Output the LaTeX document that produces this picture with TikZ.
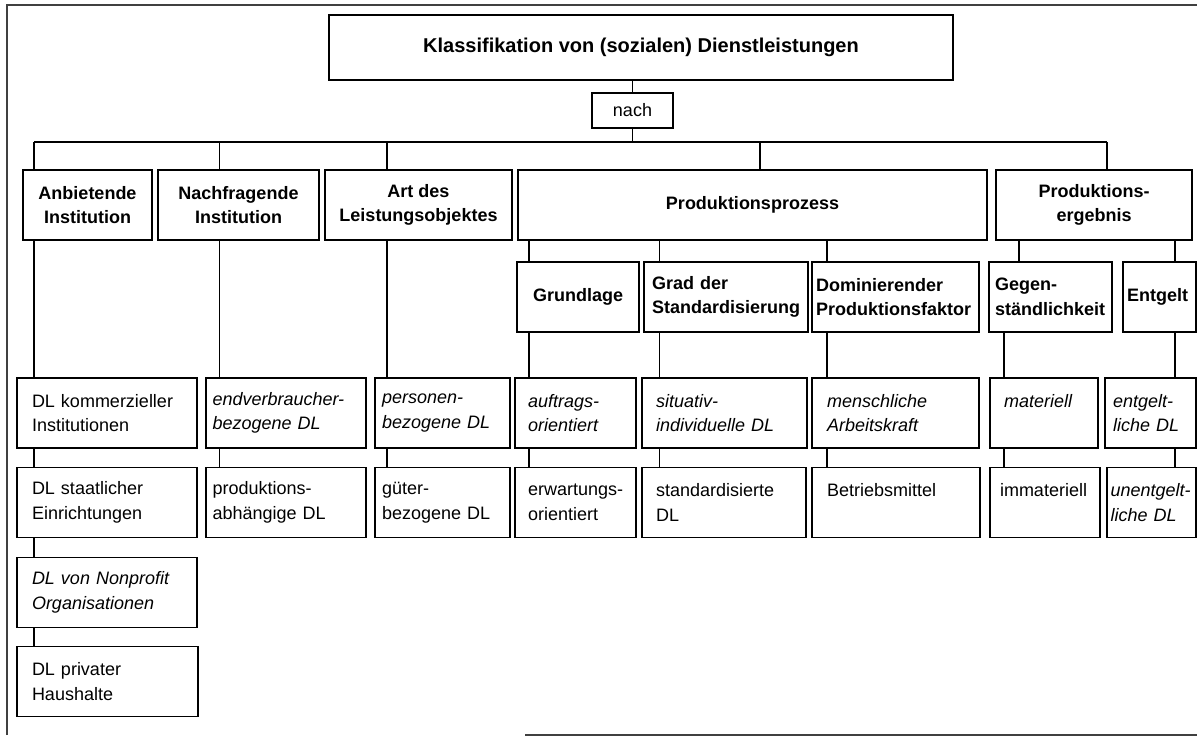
\documentclass[tikz,border=0pt]{standalone}
\usepackage{fontspec}
\setmainfont{Liberation Sans}
\usepackage{tikz}
\hyphenpenalty=10000
\exhyphenpenalty=10000

\begin{document}
\begin{tikzpicture}[x=1pt, y=-1pt, line width=1.2pt,
  heavy/.style={draw, line width=2.6pt, align=center,
    font=\fontsize{18}{24.5}\selectfont\bfseries},
  sub/.style 2 args={draw, line width=1.4pt, minimum height=70, text width=#1,
    inner xsep=#2, inner ysep=0, align=left,
    font=\fontsize{18}{24.5}\selectfont\bfseries},
  leaf/.style 2 args={draw, line width=1.4pt, minimum height=70, text width=#1,
    inner xsep=#2, inner ysep=0, align=left,
    font=\fontsize{18}{24.5}\selectfont},
  frame/.style={line width=1.6pt, black!75}]
\useasboundingbox (0,0) rectangle (1197,736);

% frame %
\draw[frame] (7,735) -- (7,5) -- (1197,5);
\draw[frame] (525,735) -- (1197,735);

% nodes %
\node[heavy, minimum width=624, minimum height=65,
  font=\fontsize{20}{24}\selectfont\bfseries] (dl) at (641,47.5) {Klassifikation von (sozialen) Dienstleistungen};
\node[draw, line width=1.4pt, minimum width=81, minimum height=35,
  font=\fontsize{18}{22}\selectfont] (nach) at (632.5,110.5) {nach};

\node[heavy, minimum width=129, minimum height=70] (anb) at (87.5,205) {Anbietende\\Institution};
\node[heavy, minimum width=161, minimum height=70] (nfr) at (238.5,205) {Nachfragende\\Institution};
\node[heavy, minimum width=187, minimum height=70] (art) at (418.5,205) {Art des\\Leistungsobjektes};
\node[heavy, minimum width=469, minimum height=70] (proz) at (752.5,205) {Produktionsprozess};
\node[heavy, minimum width=196, minimum height=70] (erg) at (1094,205) {Produktions-\\ergebnis};

\node[sub={110}{6}, align=center] (grund) at (578,297) {Grundlage};
\node[sub={148}{8}] (grad) at (726,297) {Grad der\\Standardisierung};
\node[sub={159}{4}] (dom) at (895.5,297) {Dominierender\\Produktionsfaktor};
\node[sub={111}{6}] (gegen) at (1050.5,297) {Gegen-\\ständlichkeit};
\node[sub={65}{4}] (entg) at (1159.5,297) {Entgelt};

\node[leaf={150}{15}] (k1) at (107,413) {DL kommerzieller\\Institutionen};
\node[leaf={147}{6.5}] (n1) at (286,413) {\itshape endverbraucher-\\bezogene DL};
\node[leaf={121}{7}] (a1) at (442.5,413) {\itshape personen-\\bezogene DL};
\node[leaf={95}{13}] (g1) at (575.5,413) {\itshape auftrags-\\orientiert};
\node[leaf={137}{14}] (s1) at (724.5,413) {\itshape situativ-\\individuelle DL};
\node[leaf={137}{15}] (d1) at (895.5,413) {\itshape menschliche\\Arbeitskraft};
\node[leaf={80}{14}] (m1) at (1044,413) {\itshape materiell\\~};
\node[leaf={75}{8}] (e1) at (1150.5,413) {\itshape entgelt-\\liche DL};

\node[leaf={150}{15}] (k2) at (107,502.5) {DL staatlicher\\Einrichtungen};
\node[leaf={147}{6.5}] (n2) at (286,502.5) {produktions-\\abhängige DL};
\node[leaf={121}{7}] (a2) at (442.5,502.5) {güter-\\bezogene DL};
\node[leaf={95}{13}] (g2) at (575.5,502.5) {erwartungs-\\orientiert};
\node[leaf={136}{14}] (s2) at (724,502.5) {standardisierte\\DL};
\node[leaf={138}{15}] (d2) at (896,502.5) {Betriebsmittel\\~};
\node[leaf={90}{10}] (m2) at (1045,502.5) {immateriell\\~};
\node[leaf={82}{3.5}] (e2) at (1151.5,502.5) {\itshape unentgelt-\\liche DL};

\node[leaf={150}{15}] (np) at (107,592.5) {\itshape DL von Nonprofit\\Organisationen};
\node[leaf={151}{15}] (ph) at (107.5,681.5) {DL privater\\Haushalte};

% column lines %
\coordinate (bus) at (632.5,142);
\coordinate (c1) at (34,0);
\coordinate (c2) at (219.5,0);
\coordinate (c3) at (387,0);
\coordinate (c4) at (529,0);
\coordinate (c5) at (659.5,0);
\coordinate (c6) at (827,0);
\coordinate (c7) at (1004,0);
\coordinate (c8) at (1175,0);
\coordinate (cp) at (760,0);
\coordinate (ce) at (1107,0);
\coordinate (cg) at (1019,0);

% edges %
\draw (nach.north) -- (nach.north |- dl.south);
\draw (nach.south) -- (bus);
\draw (c1 |- bus) -- (ce |- bus);
\draw (c1 |- bus) -- (anb.north -| c1);
\draw (c2 |- bus) -- (nfr.north -| c2);
\draw (c3 |- bus) -- (art.north -| c3);
\draw (cp |- bus) -- (proz.north -| cp);
\draw (ce |- bus) -- (erg.north -| ce);

\draw (proz.south -| c4) -- (grund.north -| c4);
\draw (proz.south -| c5) -- (grad.north -| c5);
\draw (proz.south -| c6) -- (dom.north -| c6);
\draw (erg.south -| cg) -- (gegen.north -| cg);
\draw (erg.south -| c8) -- (entg.north -| c8);

\draw (anb.south -| c1) -- (k1.north -| c1) (k1.south -| c1) -- (k2.north -| c1)
  (k2.south -| c1) -- (np.north -| c1) (np.south -| c1) -- (ph.north -| c1);
\draw (nfr.south -| c2) -- (n1.north -| c2) (n1.south -| c2) -- (n2.north -| c2);
\draw (art.south -| c3) -- (a1.north -| c3) (a1.south -| c3) -- (a2.north -| c3);
\draw (grund.south -| c4) -- (g1.north -| c4) (g1.south -| c4) -- (g2.north -| c4);
\draw (grad.south -| c5) -- (s1.north -| c5) (s1.south -| c5) -- (s2.north -| c5);
\draw (dom.south -| c6) -- (d1.north -| c6) (d1.south -| c6) -- (d2.north -| c6);
\draw (gegen.south -| c7) -- (m1.north -| c7) (m1.south -| c7) -- (m2.north -| c7);
\draw (entg.south -| c8) -- (e1.north -| c8) (e1.south -| c8) -- (e2.north -| c8);
\end{tikzpicture}
\end{document}
